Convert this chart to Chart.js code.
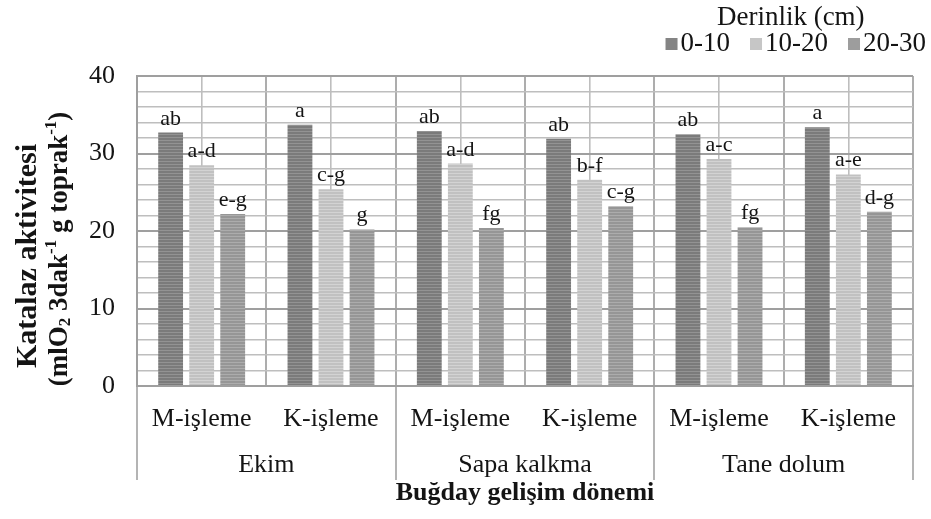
<!DOCTYPE html>
<html>
<head>
<meta charset="utf-8">
<script src="https://cdn.jsdelivr.net/npm/chart.js@4.4.1/dist/chart.umd.min.js"></script>
<style>
  html, body { margin: 0; padding: 0; background: #ffffff; }
  #wrap { width: 931px; height: 519px; }
</style>
</head>
<body>
<div id="wrap"><canvas id="c" width="931" height="519"></canvas></div>
<script>
// Catalase activity by wheat growth stage, tillage and soil depth
const stages = ['Ekim', 'Sapa kalkma', 'Tane dolum'];
const categories = ['M-işleme', 'K-işleme', 'M-işleme', 'K-işleme', 'M-işleme', 'K-işleme'];
const depths = ['0-10', '10-20', '20-30'];

const depth0_10 = [32.7, 33.7, 32.9, 31.9, 32.5, 33.4];
const depth10_20 = [28.5, 25.4, 28.7, 26.6, 29.3, 27.3];
const depth20_30 = [22.2, 20.2, 20.4, 23.2, 20.5, 22.5];

const letters0_10 = ['ab', 'a', 'ab', 'ab', 'ab', 'a'];
const letters10_20 = ['a-d', 'c-g', 'a-d', 'b-f', 'a-c', 'a-e'];
const letters20_30 = ['e-g', 'g', 'fg', 'c-g', 'fg', 'd-g'];

const yTickLabels = [0, 10, 20, 30, 40];

const legendTitle = 'Derinlik (cm)';
const xTitle = 'Buğday gelişim dönemi';
const yTitleLine1 = 'Katalaz aktivitesi';
// second line of the y title, split into normal / sub / sup runs
const yTitleLine2 = [
  ['(mlO', 'n'], ['2', 'sub'], [' 3dak', 'n'], ['-1', 'sup'],
  [' g toprak', 'n'], ['-1', 'sup'], [')', 'n']
];

const serif = "'Liberation Serif', 'Times New Roman', serif";
const textColor = '#141414';

const canvas = document.getElementById('c');
const ctx = canvas.getContext('2d');

// fine horizontal striping used on the bars
function stripes(base, line) {
  const p = document.createElement('canvas');
  p.width = 4; p.height = 3;
  const g = p.getContext('2d');
  g.fillStyle = base; g.fillRect(0, 0, 4, 3);
  g.fillStyle = line; g.fillRect(0, 2, 4, 1);
  return ctx.createPattern(p, 'repeat');
}
const fills = [
  stripes('#7b7b7b', '#939393'),
  stripes('#c1c1c1', '#d3d3d3'),
  stripes('#969696', '#acacac')
];
const legendSwatch = ['#848484', '#c6c6c6', '#9d9d9d'];
const letters = [letters0_10, letters10_20, letters20_30];

// significance letters above each bar
const barLetters = {
  id: 'barLetters',
  afterDatasetsDraw(chart) {
    const c = chart.ctx;
    c.save();
    c.font = '22px ' + serif;
    c.fillStyle = textColor;
    c.textAlign = 'center';
    c.textBaseline = 'alphabetic';
    chart.data.datasets.forEach((ds, di) => {
      const meta = chart.getDatasetMeta(di);
      meta.data.forEach((bar, i) => {
        c.fillText(letters[di][i], bar.x, bar.y - 8);
      });
    });
    c.restore();
  }
};

// legend with title, top right
const depthLegend = {
  id: 'depthLegend',
  afterDraw(chart) {
    const c = chart.ctx;
    c.save();
    c.font = '27px ' + serif;
    c.textBaseline = 'alphabetic';
    const box = 12, gapText = 3, gapItem = 20;
    const ds = chart.data.datasets;
    const widths = ds.map(d => c.measureText(d.label).width);
    let total = 0;
    widths.forEach((w, i) => { total += box + gapText + w + (i < widths.length - 1 ? gapItem : 0); });
    const right = 926;
    let x = right - total;
    const rowLeft = x;
    ds.forEach((d, i) => {
      c.fillStyle = legendSwatch[i];
      c.fillRect(x, 38, box, box);
      c.fillStyle = textColor;
      c.textAlign = 'left';
      c.fillText(d.label, x + box + gapText, 51);
      x += box + gapText + widths[i] + gapItem;
    });
    c.textAlign = 'center';
    c.fillText(legendTitle, (rowLeft + right) / 2 - 5, 25);
    c.restore();
  }
};

// two-line rotated y axis title with sub/superscripts
const yAxisTitle = {
  id: 'yAxisTitle',
  afterDraw(chart) {
    const c = chart.ctx;
    const cy = 256;
    c.save();
    c.fillStyle = textColor;
    c.textBaseline = 'middle';
    c.textAlign = 'center';
    c.font = 'bold 30px ' + serif;
    c.translate(28, cy);
    c.rotate(-Math.PI / 2);
    c.fillText(yTitleLine1, 0, 0);
    c.restore();

    c.save();
    c.fillStyle = textColor;
    c.textBaseline = 'middle';
    c.textAlign = 'left';
    const fontFor = k => (k === 'n' ? 'bold 27px ' : 'bold 17px ') + serif;
    let total = 0;
    yTitleLine2.forEach(([t, k]) => { c.font = fontFor(k); total += c.measureText(t).width; });
    c.translate(60, 249);
    c.rotate(-Math.PI / 2);
    let x = -total / 2;
    yTitleLine2.forEach(([t, k]) => {
      c.font = fontFor(k);
      const dy = k === 'sub' ? 6 : (k === 'sup' ? -8 : 0);
      c.fillText(t, x, dy);
      x += c.measureText(t).width;
    });
    c.restore();
  }
};

const gridMajor = '#9f9f9f';
const gridMinor = '#bebebe';
const sepColor = '#b4b4b4';

new Chart(ctx, {
  type: 'bar',
  data: {
    labels: categories,
    datasets: [
      { label: depths[0], data: depth0_10, backgroundColor: fills[0], xAxisID: 'x', yAxisID: 'y' },
      { label: depths[1], data: depth10_20, backgroundColor: fills[1], xAxisID: 'x', yAxisID: 'y' },
      { label: depths[2], data: depth20_30, backgroundColor: fills[2], xAxisID: 'x', yAxisID: 'y' }
    ]
  },
  options: {
    responsive: false,
    animation: false,
    devicePixelRatio: 1,
    layout: { padding: { top: 76, right: 18, bottom: 0, left: 0 } },
    datasets: { bar: { categoryPercentage: 0.72, barPercentage: 0.8, borderWidth: 0 } },
    plugins: {
      legend: { display: false },
      tooltip: { enabled: false },
      title: { display: false }
    },
    scales: {
      x: {
        type: 'category',
        position: 'bottom',
        offset: true,
        weight: 0,
        grid: {
          offset: true,
          drawTicks: true,
          tickLength: 60,
          color: '#adadad',
          lineWidth: 2,
          // tick marks only at the stage boundaries
          tickColor: c => (c.index === undefined || c.index % 2 === 0 ? sepColor : 'rgba(0,0,0,0)'),
          tickWidth: 2
        },
        border: { display: true, color: gridMajor, width: 2 },
        ticks: { font: { family: serif, size: 26 }, color: textColor, padding: -42, maxRotation: 0, autoSkip: false },
        afterFit: s => { s.height = 60; }
      },
      xc: {
        type: 'category',
        labels: categories,
        position: 'bottom',
        offset: true,
        weight: -1,
        grid: { offset: false, drawTicks: false, color: gridMinor, lineWidth: 1.6 },
        border: { display: false },
        ticks: { display: false },
        afterFit: s => { s.height = 0; }
      },
      xg: {
        type: 'category',
        labels: stages,
        position: 'bottom',
        offset: true,
        weight: 1,
        grid: { offset: true, drawOnChartArea: false, drawTicks: true, tickLength: 34, color: sepColor, lineWidth: 2 },
        border: { display: false },
        ticks: { font: { family: serif, size: 26 }, color: textColor, padding: -30, maxRotation: 0, autoSkip: false },
        title: {
          display: true,
          text: xTitle,
          font: { family: serif, size: 26, weight: 'bold' },
          color: textColor,
          padding: { top: 0, bottom: 10 }
        },
        afterFit: s => { s.height = 73; }
      },
      y: {
        min: 0,
        max: 40,
        ticks: {
          stepSize: 2,
          autoSkip: false,
          callback: v => (yTickLabels.includes(v) ? v : ''),
          font: { family: serif, size: 26 },
          color: textColor,
          padding: 22
        },
        grid: {
          drawTicks: false,
          color: c => (c.tick && c.tick.value % 10 === 0 ? gridMajor : gridMinor),
          lineWidth: c => (c.tick && c.tick.value % 10 === 0 ? 2 : 1.6)
        },
        border: { display: true, color: gridMajor, width: 2 },
        afterFit: s => { s.width = 137; }
      }
    }
  },
  plugins: [barLetters, depthLegend, yAxisTitle]
});
</script>
</body>
</html>
